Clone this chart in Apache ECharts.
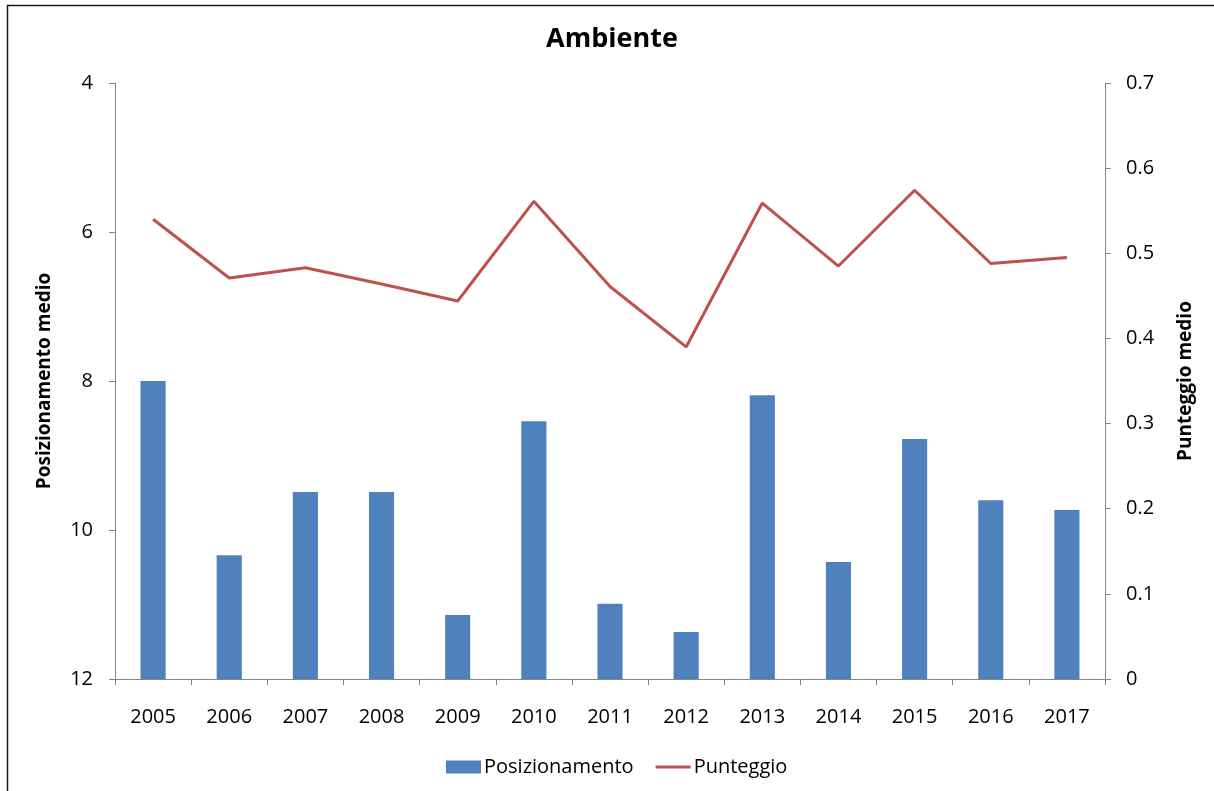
<!DOCTYPE html>
<html>
<head>
<meta charset="utf-8">
<title>Ambiente</title>
<script src="https://cdn.jsdelivr.net/npm/echarts@6/dist/echarts.min.js"></script>
<style>
  html, body { margin: 0; padding: 0; background: #ffffff; }
  #chart { width: 1214px; height: 791px; }
</style>
</head>
<body>
<div id="chart"></div>
<script>
// Years on the category axis
const years = ['2005', '2006', '2007', '2008', '2009', '2010', '2011', '2012', '2013', '2014', '2015', '2016', '2017'];
// Average ranking (left axis, inverted: 4 at the top, 12 at the bottom)
const posizionamento = [8.0, 10.34, 9.49, 9.49, 11.14, 8.54, 10.99, 11.37, 8.19, 10.43, 8.78, 9.60, 9.73];
// Average score (right axis)
const punteggio = [0.540, 0.471, 0.483, 0.464, 0.444, 0.561, 0.461, 0.390, 0.559, 0.485, 0.574, 0.488, 0.495];

const FONT = '"Open Sans", "Liberation Sans", sans-serif';
const AXIS_GREY = '#868686';
const BAR_COLOR = '#4F81BD';
const LINE_COLOR = '#C0504D';
const BAR_BASE = 12; // bars grow up from the bottom of the inverted axis

const chart = echarts.init(document.getElementById('chart'), null, { renderer: 'canvas' });

chart.setOption({
  backgroundColor: '#ffffff',
  animation: false,
  title: {
    text: 'Ambiente',
    left: 541,
    top: 21,
    textStyle: { fontFamily: FONT, fontSize: 27, fontWeight: 'bold', color: '#000000' }
  },
  graphic: [{
    type: 'rect',
    shape: { x: 7.5, y: 5.5, width: 1400, height: 1000 },
    style: { fill: 'none', stroke: '#1a1a1a', lineWidth: 1.5 },
    silent: true,
    z: -1
  }],
  legend: {
    bottom: 9,
    left: 441,
    itemWidth: 35,
    itemHeight: 13,
    itemGap: 22,
    textStyle: { fontFamily: FONT, fontSize: 20, color: '#000000', padding: [0, 0, 0, -2] },
    data: [
      { name: 'Posizionamento', icon: 'rect', itemStyle: { color: BAR_COLOR } },
      { name: 'Punteggio', icon: 'path://M0,0 L33,0 L33,3 L0,3 Z', itemStyle: { color: LINE_COLOR } }
    ]
  },
  grid: { left: 115, right: 109, top: 83, bottom: 112, containLabel: false },
  xAxis: {
    type: 'category',
    data: years,
    boundaryGap: true,
    axisLine: { lineStyle: { color: AXIS_GREY, width: 1 } },
    axisTick: { show: true, alignWithLabel: false, length: 6, lineStyle: { color: AXIS_GREY } },
    axisLabel: { margin: 28, fontFamily: FONT, fontSize: 20, color: '#000000' },
    splitLine: { show: false }
  },
  yAxis: [{
    type: 'value',
    inverse: true,
    min: 4,
    max: 12,
    interval: 2,
    name: 'Posizionamento medio',
    nameLocation: 'middle',
    nameGap: 61,
    nameTextStyle: { fontFamily: FONT, fontSize: 19, fontWeight: 'bold', color: '#000000' },
    axisLine: { show: true, lineStyle: { color: AXIS_GREY, width: 1 } },
    axisTick: { show: true, length: 6, lineStyle: { color: AXIS_GREY } },
    axisLabel: { margin: 22, fontFamily: FONT, fontSize: 20, color: '#000000' },
    splitLine: { show: false }
  }, {
    type: 'value',
    position: 'right',
    min: 0,
    max: 0.7,
    interval: 0.1,
    name: 'Punteggio medio',
    nameLocation: 'middle',
    nameGap: 71,
    nameTextStyle: { fontFamily: FONT, fontSize: 19, fontWeight: 'bold', color: '#000000' },
    axisLine: { show: true, lineStyle: { color: AXIS_GREY, width: 1 } },
    axisTick: { show: true, length: 6, lineStyle: { color: AXIS_GREY } },
    axisLabel: { margin: 21, fontFamily: FONT, fontSize: 20, color: '#000000' },
    splitLine: { show: false }
  }],
  series: [{
    name: 'Posizionamento',
    type: 'custom',
    xAxisIndex: 0,
    yAxisIndex: 0,
    itemStyle: { color: BAR_COLOR },
    encode: { x: 0, y: 1 },
    data: posizionamento.map((v, i) => [i, v]),
    renderItem: function (params, api) {
      const top = api.coord([api.value(0), api.value(1)]);
      const base = api.coord([api.value(0), BAR_BASE]);
      const w = api.size([1, 0])[0] * 0.33;
      return {
        type: 'rect',
        shape: { x: top[0] - w / 2, y: top[1], width: w, height: base[1] - top[1] },
        style: api.style({ fill: BAR_COLOR, stroke: null })
      };
    }
  }, {
    name: 'Punteggio',
    type: 'line',
    xAxisIndex: 0,
    yAxisIndex: 1,
    data: punteggio,
    symbol: 'none',
    showSymbol: false,
    lineStyle: { color: LINE_COLOR, width: 3 },
    itemStyle: { color: LINE_COLOR },
    z: 3
  }]
});
</script>
</body>
</html>
